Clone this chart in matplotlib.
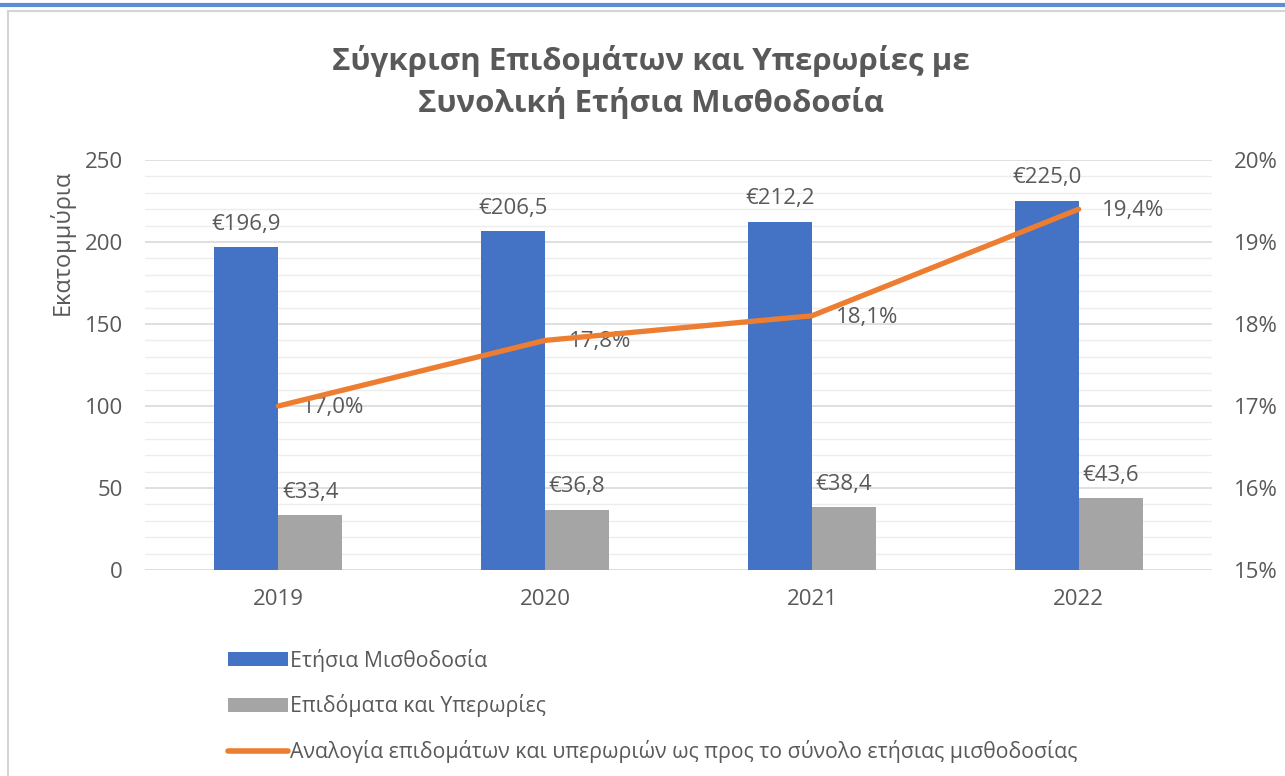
import matplotlib
matplotlib.use('agg')
import matplotlib.pyplot as plt
from matplotlib.ticker import MultipleLocator, FuncFormatter
from matplotlib.patches import Patch
from matplotlib.lines import Line2D
import numpy as np

plt.rcParams['font.family'] = ['Open Sans', 'DejaVu Sans']

years = ['2019', '2020', '2021', '2022']
payroll = [196.9, 206.5, 212.2, 225.0]
allowances = [33.4, 36.8, 38.4, 43.6]
ratio = [17.0, 17.8, 18.1, 19.4]

series_names = ['Ετήσια Μισθοδοσία',
                'Επιδόματα και Υπερωρίες',
                'Αναλογία επιδομάτων και υπερωριών ως προς το σύνολο ετήσιας μισθοδοσίας']
title = 'Σύγκριση Επιδομάτων και Υπερωρίες με\nΣυνολική Ετήσια Μισθοδοσία'
y_label = 'Εκατομμύρια'

blue = '#4472C4'
gray = '#A5A5A5'
orange = '#ED7D31'
text_color = '#595959'

W, H = 1285, 776
fig = plt.figure(figsize=(W / 100, H / 100), dpi=100)

# frame of the screenshot
fig.add_artist(Line2D([0, 1], [1 - 4.5 / H, 1 - 4.5 / H], color='#5B8ED6', lw=3))
fig.add_artist(Line2D([8 / W, 1], [1 - 11 / H, 1 - 11 / H], color='#D4D4D4', lw=1.5))
fig.add_artist(Line2D([8 / W, 8 / W], [0, 1 - 11 / H], color='#D4D4D4', lw=1.5))

ax = fig.add_axes([145 / W, 1 - 570 / H, (1212 - 145) / W, (570 - 160) / H])
x = np.arange(len(years))
bw = 0.24

ax.bar(x - bw / 2, payroll, bw, color=blue, zorder=3)
ax.bar(x + bw / 2, allowances, bw, color=gray, zorder=3)

ax.set_xlim(-0.5, len(years) - 0.5)
ax.set_ylim(0, 250)
ax.yaxis.set_major_locator(MultipleLocator(50))
ax.yaxis.set_minor_locator(MultipleLocator(10))
ax.grid(axis='y', which='major', color='#D9D9D9', lw=1.2, zorder=0)
ax.grid(axis='y', which='minor', color='#EDEDED', lw=1.0, zorder=0)
for s in ax.spines.values():
    s.set_visible(False)
ax.set_xticks(x)
ax.set_xticklabels(years)
ax.tick_params(axis='both', which='both', length=0, labelsize=16, labelcolor=text_color)
ax.tick_params(axis='x', pad=14)
ax.tick_params(axis='y', pad=16)

for xi, v in zip(x, payroll):
    ax.annotate('€' + f'{v:.1f}'.replace('.', ','), (xi - bw / 2, v), xytext=(0, 9),
                textcoords='offset points', ha='center', va='bottom', fontsize=16, color=text_color)
for xi, v in zip(x, allowances):
    ax.annotate('€' + f'{v:.1f}'.replace('.', ','), (xi + bw / 2, v), xytext=(0, 9),
                textcoords='offset points', ha='center', va='bottom', fontsize=16, color=text_color)

ax2 = ax.twinx()
ax2.plot(x, ratio, color=orange, lw=3.8, solid_capstyle='round', zorder=4)
ax2.set_ylim(15, 20)
ax2.yaxis.set_major_locator(MultipleLocator(1))
ax2.yaxis.set_major_formatter(FuncFormatter(lambda v, p: f'{v:.0f}%'))
for s in ax2.spines.values():
    s.set_visible(False)
ax2.tick_params(axis='y', length=0, labelsize=16, labelcolor=text_color, pad=16)

for xi, r in zip(x, ratio):
    ax2.annotate(f'{r:.1f}'.replace('.', ',') + '%', (xi, r), xytext=(17, -1),
                 textcoords='offset points', ha='left', va='center', fontsize=16, color=text_color)

fig.text(651 / W, 1 - 82 / H, title, ha='center', va='center', fontsize=22.5,
         fontweight='bold', color=text_color, linespacing=1.4)
fig.text(62 / W, 1 - 242 / H, y_label, rotation=90, ha='center', va='center',
         fontsize=17, color=text_color)

handles = [Patch(facecolor=blue), Patch(facecolor=gray),
           Line2D([0], [0], color=orange, lw=4, solid_capstyle='round')]
fig.legend(handles, series_names, loc='upper left', bbox_to_anchor=(219 / W, 1 - 640 / H),
           frameon=False, fontsize=15.3, labelcolor=text_color, handlelength=2.85,
           handleheight=0.6, handletextpad=0.1, labelspacing=1.08, borderaxespad=0)

fig.savefig('out.png', dpi=100)
